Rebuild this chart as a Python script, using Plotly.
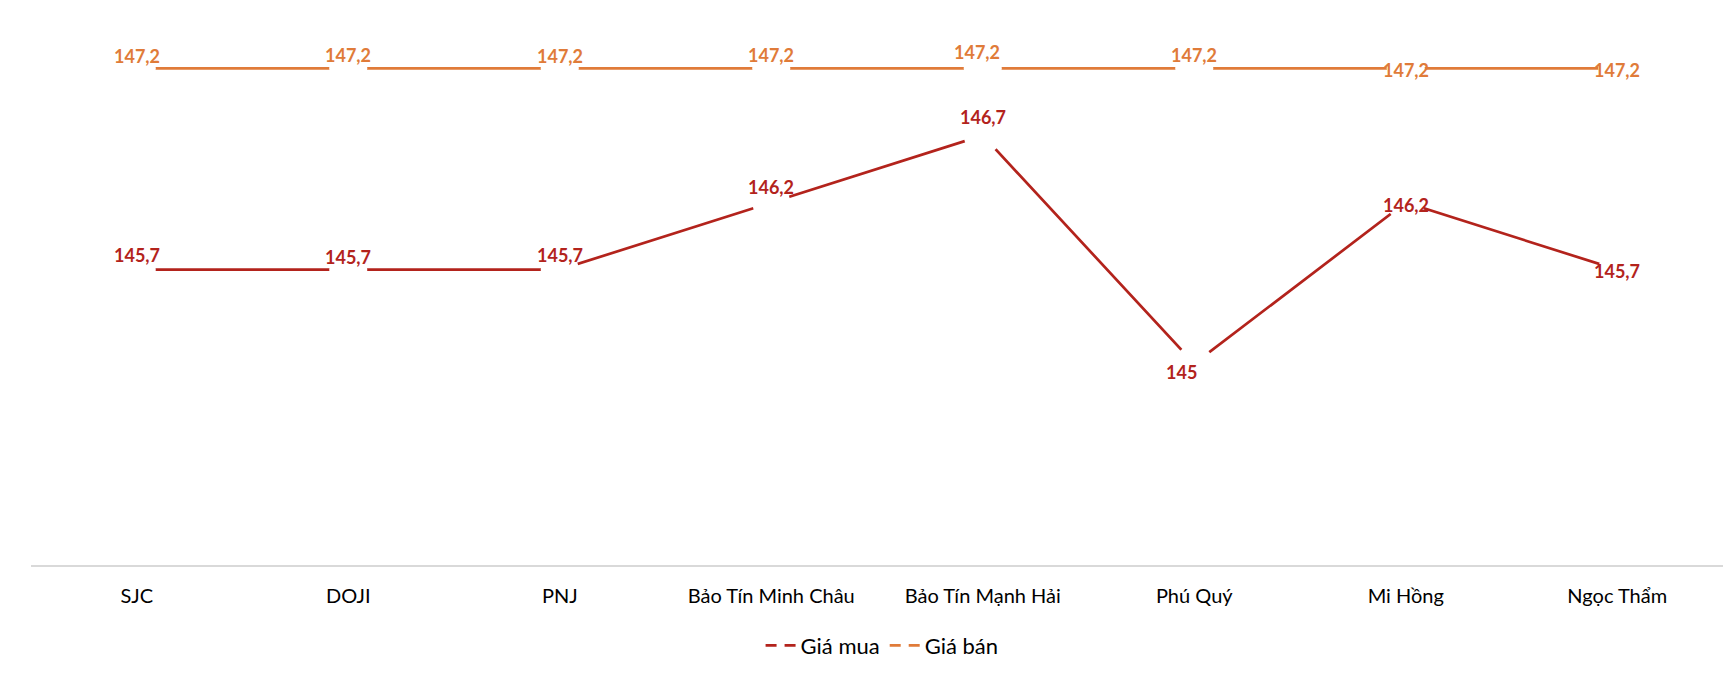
import plotly.graph_objects as go

categories = ["SJC", "DOJI", "PNJ", "Bảo Tín Minh Châu", "Bảo Tín Mạnh Hải", "Phú Quý", "Mi Hồng", "Ngọc Thẩm"]
gia_mua = [145.7, 145.7, 145.7, 146.2, 146.7, 145.0, 146.2, 145.7]
gia_ban = [147.2, 147.2, 147.2, 147.2, 147.2, 147.2, 147.2, 147.2]
labels_mua = ["145,7", "145,7", "145,7", "146,2", "146,7", "145", "146,2", "145,7"]
labels_ban = ["147,2", "147,2", "147,2", "147,2", "147,2", "147,2", "147,2", "147,2"]

RED = "#B3231C"
ORANGE = "#E07B39"
FONT = "Lato"

# label offsets (px) to mimic Excel label placement
shift_mua = [15, 13, 15, 16, 18, -8, -2, -1]
xshift_mua = [0, 0, 0, 0, 0, -13, 0, 0]
shift_ban = [12, 13, 12, 13, 16, 13, -2, -2]
xshift_ban = [0, 0, 0, 0, -6, 0, 0, 0]

fig = go.Figure()
fig.add_trace(go.Scatter(
    x=categories, y=gia_mua, name="Giá mua", mode="lines+markers", showlegend=False,
    line=dict(color=RED, width=2.7),
    marker=dict(color="white", size=38, line=dict(width=0)),
))
fig.add_trace(go.Scatter(
    x=categories, y=gia_ban, name="Giá bán", mode="lines+markers", showlegend=False,
    line=dict(color=ORANGE, width=2.7),
    marker=dict(color="white", size=38, line=dict(width=0)),
))
# legend entries (Excel shows the line broken by the blank marker)
fig.add_trace(go.Scatter(x=[None], y=[None], name="Giá mua", mode="lines",
                         line=dict(color=RED, width=2.7, dash="11px,8px")))
fig.add_trace(go.Scatter(x=[None], y=[None], name="Giá bán", mode="lines",
                         line=dict(color=ORANGE, width=2.7, dash="11px,8px")))

for c, v, t, s, xs in zip(categories, gia_mua, labels_mua, shift_mua, xshift_mua):
    fig.add_annotation(x=c, y=v, text=f"<b>{t}</b>", showarrow=False, yshift=s, xshift=xs,
                       font=dict(family=FONT, size=18, color=RED))
for c, v, t, s, xs in zip(categories, gia_ban, labels_ban, shift_ban, xshift_ban):
    fig.add_annotation(x=c, y=v, text=f"<b>{t}</b>", showarrow=False, yshift=s, xshift=xs,
                       font=dict(family=FONT, size=18, color=ORANGE))

fig.update_layout(
    width=1736, height=678,
    margin=dict(l=31, r=13, t=28, b=100),
    paper_bgcolor="white", plot_bgcolor="white",
    font=dict(family=FONT, size=20, color="black"),
    showlegend=True,
    legend=dict(orientation="h", x=0.503, xanchor="center", y=-0.15, yanchor="middle",
                font=dict(family=FONT, size=22, color="black"), itemwidth=30),
    xaxis=dict(type="category", range=[-0.5, 7.5], showgrid=False, zeroline=False,
               showline=True, linecolor="#D9D9D9", linewidth=1.5,
               ticks="outside", ticklen=12, tickcolor="rgba(0,0,0,0)",
               tickfont=dict(family=FONT, size=20, color="black")),
    yaxis=dict(range=[143.5, 147.5], visible=False, showgrid=False, zeroline=False),
)

fig.write_html("out.html", config={"displayModeBar": False},
               post_script="document.body.style.margin='0';document.body.style.overflow='hidden';")
